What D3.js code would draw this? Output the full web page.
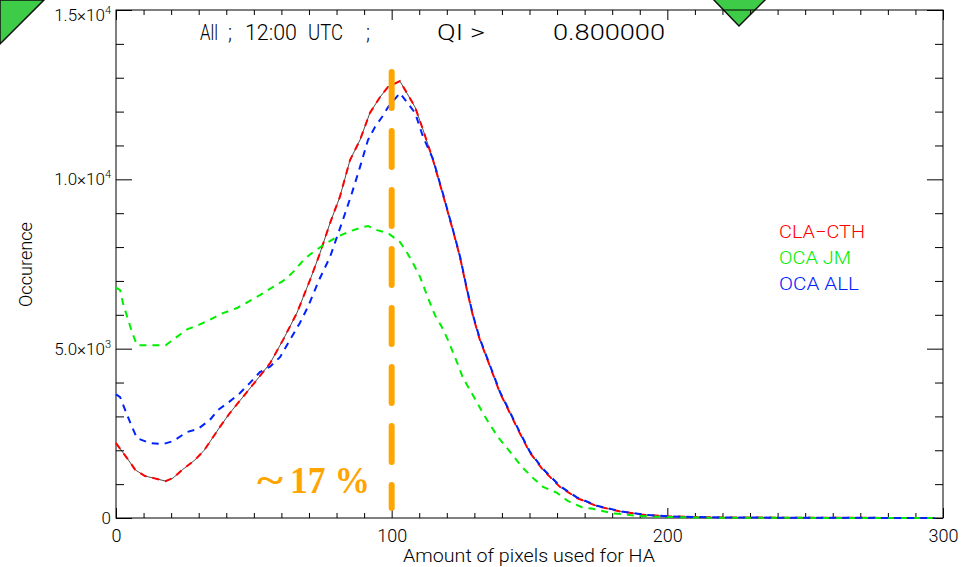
<!DOCTYPE html>
<html>
<head>
<meta charset="utf-8">
<script src="https://cdn.jsdelivr.net/npm/d3@7"></script>
<style>
  body { margin: 0; background: #fff; }
  svg { display: block; }
  .lbl { font-family: "Roboto", "DejaVu Sans", sans-serif; font-weight: 300; }
</style>
</head>
<body>
<script>
// Occurrence vs amount of pixels used for HA
const claX = [0,4,7,10.5,14,18,20.7,24,28.6,32,37.7,41.3,46,51,55.9,60.6,65.6,70.4,74,77.6,81.2,84.9,88.5,92.1,95.8,98.7,103,105.5,108.5,111.4,115,118.6,122.2,124.8,127.3,129.6,132,135.7,139.3,142.9,146.5,150.2,154.9,161,167.2,174.5,183,192,200,215,240,270,297];
const claY = [2210,1770,1420,1240,1170,1090,1180,1420,1710,2000,2690,3100,3570,4070,4570,5260,6050,7030,7820,8700,9480,10570,11160,11960,12430,12730,12900,12550,12130,11460,10570,9550,8500,7700,6730,5930,5260,4470,3690,3100,2500,1920,1420,920,590,350,190,90,50,20,10,5,0];

const jmX = [0,1.5,2.5,4.4,5.8,7.6,12.3,18,21.4,25.8,29.7,34,38.8,43.9,47.9,52.2,56.9,60.6,64.2,68.6,71.5,75.8,80.2,84.9,89.6,91.5,94.7,98.7,103,105.7,107.7,110.3,112.1,113.9,115.7,118.2,120.4,122.2,124.1,125.9,128.4,130.9,133.1,135.7,138.6,141.8,144.7,147.6,151.3,154.9,160,164,169,173,180,190,200,215,240,270,297];
const jmY = [6800,6730,6350,5850,5490,5100,5100,5100,5310,5570,5690,5850,6050,6200,6380,6580,6820,7000,7260,7670,7850,8090,8300,8470,8590,8620,8500,8410,8150,7820,7530,7120,6730,6350,5990,5640,5260,4900,4520,4130,3780,3420,3100,2750,2390,2070,1770,1480,1180,920,740,500,320,270,140,60,30,10,5,2,0];

const allX = [0,1.5,3.3,5.8,7.6,12.3,17,20.7,25.8,29.7,34,37,40.6,45,48.6,52.2,55.9,59.5,63.1,66.7,69.6,73.5,77.6,82.3,85.6,88.5,91.4,93.9,96.5,98.7,103,105.5,108.5,111.4,115,118.6,122.2,124.8,127.3,129.6,132,135.7,139.3,142.9,146.5,150.2,154.9,161,167.2,174.5,183,192,200,215,240,270,297];
const allY = [3650,3570,3190,2690,2360,2210,2180,2270,2540,2630,2890,3190,3400,3690,3990,4310,4470,4750,5260,5760,6230,7000,7700,8800,9600,10360,11160,11540,11840,12130,12550,12280,11960,11250,10600,9580,8520,7720,6760,5960,5290,4500,3720,3130,2530,1950,1450,950,610,360,200,95,50,20,10,5,0];

const seriesNames = ["CLA\u2212CTH", "OCA JM", "OCA ALL"];
const seriesColors = ["#ff0000", "#00ee00", "#0022ff"];

const xMajor = [0, 100, 200, 300];
const yMajor = [0, 5000, 10000, 15000];
const yLabels = [["0", null], ["5.0\u00d710", "3"], ["1.0\u00d710", "4"], ["1.5\u00d710", "4"]];

// vertical marker at 100 px
const markX = 100, markTop = 13170, markBottom = 300;
const markText = ["~", "17 %"];

const w = 961, h = 567;
const svg = d3.select("body").append("svg").attr("width", w).attr("height", h);

const x = d3.scaleLinear().domain([0, 300]).range([116, 943]);
const y = d3.scaleLinear().domain([0, 15000]).range([518, 10]);

// corner decorations
svg.append("polygon").attr("points", "0,0 44,0 0,44")
  .attr("fill", "#3ecb48").attr("stroke", "#111").attr("stroke-width", 1.5);
svg.append("polygon").attr("points", "712,-2 739,26 767,-2")
  .attr("fill", "#3ecb48").attr("stroke", "#111").attr("stroke-width", 1.5);

// axes box
svg.append("rect")
  .attr("x", x(0)).attr("y", y(15000))
  .attr("width", x(300) - x(0)).attr("height", y(0) - y(15000))
  .attr("fill", "none").attr("stroke", "#000").attr("stroke-width", 1);

const xMinor = d3.range(0, 301, 10).filter(v => v % 100 !== 0);
const yMinor = d3.range(0, 15001, 1000).filter(v => v % 5000 !== 0);

function ticks(axis, tr) {
  const g = svg.append("g").attr("transform", tr).call(axis);
  g.select(".domain").remove();
  g.selectAll("line").attr("stroke", "#000");
  return g;
}
ticks(d3.axisBottom(x).tickValues(xMinor).tickSize(-5).tickFormat(""), `translate(0,${y(0)})`);
ticks(d3.axisTop(x).tickValues(xMinor).tickSize(-5).tickFormat(""), `translate(0,${y(15000)})`);
ticks(d3.axisTop(x).tickValues(xMajor).tickSize(-10).tickFormat(""), `translate(0,${y(15000)})`);
const xg = ticks(d3.axisBottom(x).tickValues(xMajor).tickSize(-10).tickPadding(11).tickFormat(d3.format("d")), `translate(0,${y(0)})`);
xg.selectAll("text").attr("class", "lbl").attr("font-size", 18).attr("fill", "#000");

ticks(d3.axisLeft(y).tickValues(yMinor).tickSize(-8).tickFormat(""), `translate(${x(0)},0)`);
ticks(d3.axisLeft(y).tickValues(yMajor).tickSize(-16).tickFormat(""), `translate(${x(0)},0)`);
ticks(d3.axisRight(y).tickValues(yMinor).tickSize(-8).tickFormat(""), `translate(${x(300)},0)`);
ticks(d3.axisRight(y).tickValues(yMajor).tickSize(-16).tickFormat(""), `translate(${x(300)},0)`);

// y tick labels with exponents
yMajor.forEach((v, i) => {
  const t = svg.append("text").attr("class", "lbl")
    .attr("x", 111).attr("y", Math.max(y(v), 15) + 6)
    .attr("text-anchor", "end").attr("font-size", 17);
  t.append("tspan").text(yLabels[i][0]);
  if (yLabels[i][1]) t.append("tspan").attr("font-size", 11).attr("dy", -7).text(yLabels[i][1]);
});

// axis titles
svg.append("text").attr("class", "lbl")
  .attr("x", 403).attr("y", 562).attr("font-size", 18)
  .attr("textLength", 252).attr("lengthAdjust", "spacingAndGlyphs")
  .text("Amount of pixels used for HA");
svg.append("text").attr("class", "lbl")
  .attr("transform", "translate(32,307) rotate(-90)")
  .attr("font-size", 19)
  .attr("textLength", 85).attr("lengthAdjust", "spacingAndGlyphs")
  .text("Occurence");

// title
const titleParts = [["All", 200, 18], [";", 228, 4], ["12:00", 245, 52], ["UTC", 308, 35], [";", 366, 4], ["QI", 437, 26], [">", 470, 15], ["0.800000", 553, 112]];
titleParts.forEach(p => {
  svg.append("text").attr("class", "lbl")
    .attr("x", p[1]).attr("y", 40).attr("font-size", 22)
    .attr("textLength", p[2]).attr("lengthAdjust", "spacingAndGlyphs")
    .text(p[0]);
});

// curves
const line = d3.line().x(d => x(d[0])).y(d => y(d[1]));
const claData = d3.zip(claX, claY);
const jmData = d3.zip(jmX, jmY);
const allData = d3.zip(allX, allY);

svg.append("path").datum(claData).attr("d", line)
  .attr("fill", "none").attr("stroke", "#000").attr("stroke-width", 0.7);
[claData, jmData, allData].forEach((data, i) => {
  svg.append("path").datum(data).attr("d", line)
    .attr("fill", "none").attr("stroke", seriesColors[i])
    .attr("stroke-width", 2).attr("stroke-dasharray", "7 6");
});

// legend
const legendW = [86, 72, 80];
seriesNames.forEach((n, i) => {
  svg.append("text").attr("class", "lbl")
    .attr("x", 779).attr("y", 238 + i * 26).attr("font-size", 18)
    .attr("fill", seriesColors[i])
    .attr("textLength", legendW[i]).attr("lengthAdjust", "spacingAndGlyphs")
    .text(n);
});

// orange marker
svg.append("line")
  .attr("x1", x(markX)).attr("x2", x(markX))
  .attr("y1", y(markTop)).attr("y2", y(markBottom))
  .attr("stroke", "#ffa500").attr("stroke-width", 6)
  .attr("stroke-linecap", "round").attr("stroke-dasharray", "36 23");
[[markText[0], 257, 26], [markText[1], 290, 80]].forEach(p => {
  svg.append("text")
    .attr("x", p[1]).attr("y", 493)
    .attr("font-family", "'Liberation Serif', 'Times New Roman', serif")
    .attr("font-weight", "bold").attr("font-size", 38)
    .attr("fill", "#ffa500")
    .attr("textLength", p[2]).attr("lengthAdjust", "spacingAndGlyphs")
    .text(p[0]);
});
</script>
</body>
</html>
